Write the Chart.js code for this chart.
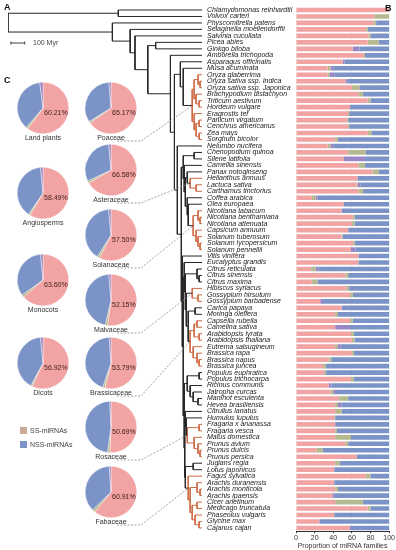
<!DOCTYPE html>
<html>
<head>
<meta charset="utf-8">
<script src="https://cdn.jsdelivr.net/npm/chart.js@4.4.1/dist/chart.umd.min.js"></script>
<style>
  body { margin: 0; background: #fff; font-family: "Liberation Sans", Arial, sans-serif; }
  #wrap { position: relative; width: 396px; height: 550px; overflow: hidden; }
  #wrap canvas { position: absolute; }
  .panel { position: absolute; font-weight: bold; font-size: 9px; color: #111; line-height: 1; }
  .lab { position: absolute; font-size: 7px; color: #333; line-height: 1; white-space: nowrap; transform: translateX(-50%); }
  .pct { position: absolute; font-size: 7px; color: #3e1c1c; line-height: 1; white-space: nowrap; }
  .key { position: absolute; font-size: 7px; color: #444; line-height: 1; white-space: nowrap; }
  .key i { display: inline-block; width: 7px; height: 7px; margin-right: 3px; vertical-align: -1px; }
</style>
</head>
<body>
<div id="wrap">
  <canvas id="tree" width="207" height="550" style="left:0;top:0"></canvas>
  <canvas id="bars" width="189" height="550" style="left:207px;top:0"></canvas>
  <div class="panel" style="left:4px;top:3px">A</div>
  <div class="panel" style="left:385px;top:4px">B</div>
  <div class="panel" style="left:4px;top:76px">C</div>
</div>
<script>
const species = [
  'Chlamydomonas reinhardtii', 'Volvox carteri', 'Physcomitrella patens', 'Selaginella moellendorffii',
  'Salvinia cucullata', 'Picea abies', 'Ginkgo biloba', 'Amborella trichopoda', 'Asparagus officinalis',
  'Musa acuminata', 'Oryza glaberrima', 'Oryza sativa ssp. Indica', 'Oryza sativa ssp. Japonica',
  'Brachypodium distachyon', 'Triticum aestivum', 'Hordeum vulgare', 'Eragrostis tef', 'Panicum virgatum',
  'Cenchrus americanus', 'Zea mays', 'Sorghum bicolor', 'Nelumbo nucifera', 'Chenopodium quinoa',
  'Silene latifolia', 'Camellia sinensis', 'Panax notoginseng', 'Helianthus annuus', 'Lactuca sativa',
  'Carthamus tinctorius', 'Coffea arabica', 'Olea europaea', 'Nicotiana tabacum', 'Nicotiana benthamiana',
  'Nicotiana attenuata', 'Capsicum annuum', 'Solanum tuberosum', 'Solanum lycopersicum', 'Solanum pennellii',
  'Vitis vinifera', 'Eucalyptus grandis', 'Citrus reticulata', 'Citrus sinensis', 'Citrus maxima',
  'Hibiscus syriacus', 'Gossypium hirsutum', 'Gossypium barbadense', 'Carica papaya', 'Moringa oleifera',
  'Capsella rubella', 'Camelina sativa', 'Arabidopsis lyrata', 'Arabidopsis thaliana', 'Eutrema salsugineum',
  'Brassica rapa', 'Brassica napus', 'Brassica juncea', 'Populus euphratica', 'Populus trichocarpa',
  'Ricinus communis', 'Jatropha curcas', 'Manihot esculenta', 'Hevea brasiliensis', 'Citrullus lanatus',
  'Humulus lupulus', 'Fragaria x ananassa', 'Fragaria vesca', 'Malus domestica', 'Prunus avium',
  'Prunus dulcis', 'Prunus persica', 'Juglans regia', 'Lotus japonicus', 'Fagus sylvatica',
  'Arachis duranensis', 'Arachis monticola', 'Arachis ipaensis', 'Cicer arietinum', 'Medicago truncatula',
  'Phaseolus vulgaris', 'Glycine max', 'Cajanus cajan'
];

// B: proportion of miRNA families per species (%)
const ssPink = [100,84,83,75,78,77,61,73,50,34, 34,53,60,67,77,58,56,55,56,77, 42,34,56,51,67,82,66,65,67,17,
  51,49,61,60,56,49,61,59,67,67, 16,53,17,54,58,26,49,42,58,42, 59,60,42,60,35,29,30,59,35,37,
  46,42,42,41,42,42,42,53,22,65, 42,41,75,41,42,39,42,77,41,25, 58];
const minorGreen = [0,16,3,2,2,12,0,1,0,3, 2,0,8,5,3,0,1,1,1,4, 3,3,19,0,7,7,0,1,5,4,
  0,0,2,3,0,1,2,0,0,0, 5,3,6,3,3,0,0,3,3,0, 3,3,3,2,3,3,2,3,0,3,
  10,3,7,1,0,2,17,3,7,0, 5,0,5,0,3,0,30,3,0,0, 0];
const minorPurple = [0,0,0,0,0,0,7,0,2,3, 5,2,0,0,0,0,0,0,0,0, 0,3,0,23,0,0,0,3,0,2,
  0,0,0,0,0,0,0,5,0,0, 3,0,0,0,0,3,0,0,0,16, 0,0,3,0,0,0,0,0,3,4,
  0,4,0,0,0,0,0,0,0,0, 0,0,0,0,0,2,0,0,0,0, 0];
const nssBlue = [0,0,14,23,20,11,32,26,48,60, 59,45,32,28,20,42,43,44,43,19, 55,60,25,26,26,11,34,31,28,77,
  49,51,37,37,44,50,37,36,33,33, 76,44,77,43,39,71,51,55,39,42, 38,37,52,38,62,68,68,38,62,56,
  44,51,51,58,58,56,41,44,71,35, 53,59,20,59,55,59,28,20,59,75, 42];
const xTicks = [0, 20, 40, 60, 80, 100];

// C: pie summaries (%)
const pieNames = ['Land plants', 'Angiosperms', 'Monocots', 'Dicots', 'Poaceae', 'Asteraceae',
  'Solanaceae', 'Malvaceae', 'Brassicaceae', 'Rosaceae', 'Fabaceae'];
const pieSS = [60.21, 58.49, 63.60, 56.92, 65.17, 66.58, 57.50, 52.15, 53.79, 50.69, 60.91];
const pieMinorA = [1.2, 1.0, 1.6, 1.0, 1.0, 1.4, 1.5, 1.5, 1.5, 1.5, 1.8];
const pieNSS = [36.6, 39.0, 33.3, 40.5, 32.5, 30.6, 39.5, 45.0, 43.5, 47.0, 36.2];
const pieMinorB = [2.0, 1.5, 1.5, 1.6, 1.3, 1.4, 1.5, 1.35, 1.2, 0.8, 1.1];

// A: tree, node ages in Myr; "_" is the next species in list order
const _ = null;
const N = (age, ...kids) => ({ age, kids });
const R = (fam, age, ...kids) => ({ age, kids, fam });

const poaceae = R('Poaceae', 71,
  N(57, N(29, _, N(14, _, _)), N(43, _, N(21, _, _))),
  N(57, _, N(43, N(21, _, _), N(21, _, _))));
const monocots = N(157, _, N(136, _, poaceae));
const asteraceae = R('Asteraceae', 86, _, N(43, _, _));
const solanaceae = R('Solanaceae', 64, N(29, _, N(14, _, _)), N(43, _, N(29, _, N(14, _, _))));
const asterids = N(129, _, N(121, N(107, _, asteraceae), N(107, _, N(100, _, solanaceae))));
const superasterids = N(136, N(57, _, _), asterids);
const malvaceae = R('Malvaceae', 71, _, N(29, _, _));
const brassicaceae = R('Brassicaceae', 86, N(57, N(36, _, _), N(21, _, _)), N(64, _, N(36, _, N(21, _, _))));
const malvids = N(129, _, N(121, N(36, _, N(21, _, _)), N(114, malvaceae, N(100, N(50, _, _), brassicaceae))));
const malpighiales = N(107, N(21, _, _), N(86, _, N(64, _, N(29, _, _))));
const rosaceae = R('Rosaceae', 107, N(21, _, _), N(57, _, N(29, _, N(14, _, _))));
const fabaceae = R('Fabaceae', 100, _, N(86, N(36, _, N(14, _, _)), N(71, N(36, _, _), N(50, _, N(21, _, _)))));
const fabids = N(129, malpighiales, N(125, N(121, _, N(114, _, rosaceae)), N(121, N(64, _, _), fabaceae)));
const superrosids = N(143, _, N(136, malvids, fabids));
const eudicots = N(179, _, N(150, superasterids, superrosids));
const angiosperms = N(229, _, N(200, monocots, eudicots));
const tree = N(1407, N(607, _, _), N(650, _, N(521, _, N(486, _, N(393, N(336, _, _), angiosperms)))));

const ROOT_AGE = 1407;
const scaleBarMyr = 100;

const COL = { pink: '#f2a3a3', green: '#b4b98f', purple: '#9a86c4', blue: '#7c93c7', tan: '#c9ab96',
  branch: '#262626', red: '#cf6a44', link: '#8a8a8a' };
const FONT = '"Liberation Sans", Arial, sans-serif';

// ---- layout the tree ----
let leafNo = 0;
const famNodes = {};
function place(node) {
  if (node === null) return { age: 0, y: leafNo++, kids: [] };
  const kids = node.kids.map(place);
  const out = { age: node.age, kids, fam: node.fam, y: (kids[0].y + kids[kids.length - 1].y) / 2 };
  if (node.fam) famNodes[node.fam] = out;
  return out;
}
const root = place(tree);

const blackSeg = [], redSeg = [];
function segs(node, red) {
  if (!node.kids.length) return;
  const inRed = red || !!node.fam;
  const out = inRed ? redSeg : blackSeg;
  out.push({ x: node.age, y: node.kids[0].y }, { x: node.age, y: node.kids[node.kids.length - 1].y }, { x: node.age, y: null });
  node.kids.forEach(k => {
    out.push({ x: node.age, y: k.y }, { x: k.age, y: k.y }, { x: k.age, y: null });
    segs(k, inRed);
  });
}
segs(root, false);

// page layout of pies (pixels)
const pieCx = [43, 43, 43, 43, 111, 111, 111, 111, 111, 111, 111];
const pieCy = [108, 193, 280, 363, 108, 170, 235, 300, 363, 427, 492];
const PIE_R = 25;

const TOP = 6.76, BOTTOM_AX = 18.8;

const linkPlugin = {
  id: 'links',
  afterDatasetsDraw(chart) {
    const { ctx, scales: { x, y } } = chart;
    ctx.save();
    ctx.strokeStyle = COL.link;
    ctx.lineWidth = 0.8;
    ctx.setLineDash([2, 1.5]);
    pieNames.forEach((name, i) => {
      const node = famNodes[name];
      if (!node) return;
      const ly = pieCy[i] + PIE_R + 8;
      ctx.beginPath();
      ctx.moveTo(pieCx[i] + 6, ly);
      ctx.lineTo(pieCx[i] + 30, ly);
      ctx.lineTo(x.getPixelForValue(node.age), y.getPixelForValue(node.y));
      ctx.stroke();
    });
    ctx.restore();
  }
};

new Chart(document.getElementById('tree'), {
  type: 'scatter',
  data: {
    datasets: [
      { data: blackSeg, showLine: true, borderColor: COL.branch, borderWidth: 1, pointRadius: 0, spanGaps: false },
      { data: redSeg, showLine: true, borderColor: COL.red, borderWidth: 1, pointRadius: 0, spanGaps: false },
      { data: [{ x: ROOT_AGE - 21, y: 5.1 }, { x: ROOT_AGE - 21 - scaleBarMyr, y: 5.1 }],
        showLine: true, borderColor: '#444', borderWidth: 1,
        pointStyle: 'line', rotation: 90, pointRadius: 1.5, pointBorderColor: '#444', pointBorderWidth: 1 }
    ]
  },
  options: {
    responsive: false, animation: false, events: [],
    layout: { padding: { top: TOP, bottom: BOTTOM_AX, left: 8, right: 2 } },
    scales: {
      x: { display: false, min: 0, max: ROOT_AGE, reverse: true },
      y: { display: false, min: -0.5, max: species.length - 0.5, reverse: true }
    },
    plugins: { legend: { display: false }, tooltip: { enabled: false } }
  },
  plugins: [linkPlugin]
});

new Chart(document.getElementById('bars'), {
  type: 'bar',
  data: {
    labels: species,
    datasets: [
      { label: 'SS', data: ssPink, backgroundColor: COL.pink },
      { label: 'minor 1', data: minorGreen, backgroundColor: COL.green },
      { label: 'minor 2', data: minorPurple, backgroundColor: COL.purple },
      { label: 'NSS', data: nssBlue, backgroundColor: COL.blue }
    ]
  },
  options: {
    indexAxis: 'y', responsive: false, animation: false, events: [],
    datasets: { bar: { barPercentage: 0.72, categoryPercentage: 1 } },
    layout: { padding: { top: TOP, right: 4, left: 0, bottom: 0 } },
    scales: {
      x: {
        stacked: true, min: 0, max: 100,
        afterBuildTicks: s => { s.ticks = xTicks.map(v => ({ value: v })); },
        afterFit: s => { s.height = BOTTOM_AX; },
        ticks: { font: { family: FONT, size: 7 }, color: '#333', padding: 1, maxRotation: 0 },
        grid: { color: 'rgba(0,0,0,0.05)', tickLength: 2, tickColor: '#333' },
        border: { color: '#333' },
        title: { display: true, text: 'Proportion of miRNA families', font: { family: FONT, size: 7 }, color: '#333', padding: 0 }
      },
      y: {
        stacked: true,
        afterFit: s => { s.width = 89; },
        ticks: { autoSkip: false, crossAlign: 'far', padding: 0, font: { family: FONT, size: 7, style: 'italic' }, color: '#222' },
        grid: { display: false },
        border: { display: false }
      }
    },
    plugins: { legend: { display: false }, tooltip: { enabled: false } }
  }
});

// pies
const wrap = document.getElementById('wrap');
pieNames.forEach((name, i) => {
  const cv = document.createElement('canvas');
  cv.width = 54; cv.height = 54;
  cv.style.left = (pieCx[i] - 27) + 'px';
  cv.style.top = (pieCy[i] - 27) + 'px';
  wrap.appendChild(cv);
  new Chart(cv, {
    type: 'pie',
    data: {
      labels: ['SS-miRNAs', 'minor 1', 'NSS-miRNAs', 'minor 2'],
      datasets: [{
        data: [pieSS[i], pieMinorA[i], pieNSS[i], pieMinorB[i]],
        backgroundColor: [COL.pink, COL.green, COL.blue, COL.purple],
        borderColor: '#fff', borderWidth: 0.4
      }]
    },
    options: {
      responsive: false, animation: false, events: [],
      layout: { padding: 1 },
      plugins: { legend: { display: false }, tooltip: { enabled: false } }
    }
  });
  const pct = document.createElement('div');
  pct.className = 'pct';
  pct.textContent = pieSS[i].toFixed(2) + '%';
  pct.style.left = (pieCx[i] + 1) + 'px';
  pct.style.top = (pieCy[i] + 1) + 'px';
  wrap.appendChild(pct);
  const lab = document.createElement('div');
  lab.className = 'lab';
  lab.textContent = name;
  lab.style.left = pieCx[i] + 'px';
  lab.style.top = (pieCy[i] + PIE_R + 1) + 'px';
  wrap.appendChild(lab);
});

// legend and scale bar text
[['SS-miRNAs', COL.tan, 427], ['NSS-miRNAs', COL.blue, 441]].forEach(([t, c, top]) => {
  const d = document.createElement('div');
  d.className = 'key';
  d.style.left = '20px'; d.style.top = top + 'px';
  d.innerHTML = '<i style="background:' + c + '"></i>' + t;
  wrap.appendChild(d);
});
const sb = document.createElement('div');
sb.className = 'key';
sb.style.left = '33px'; sb.style.top = '39px';
sb.textContent = '100 Myr';
wrap.appendChild(sb);
</script>
</body>
</html>
